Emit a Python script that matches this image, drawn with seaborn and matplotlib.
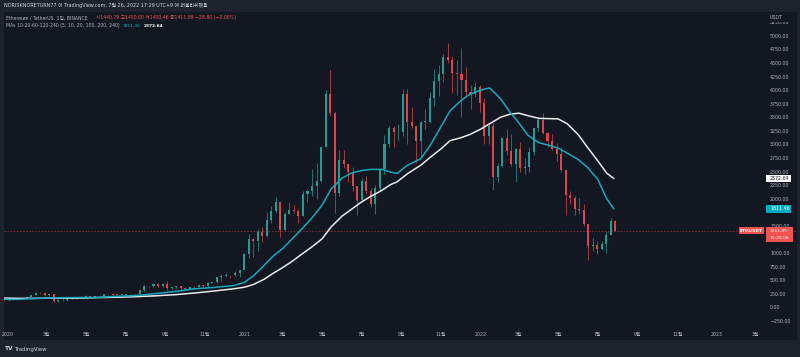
import numpy as np
import pandas as pd
import matplotlib
matplotlib.use("Agg")
import matplotlib.pyplot as plt
import matplotlib.dates as mdates
import matplotlib.transforms as mtransforms
from matplotlib.patches import Rectangle
import seaborn as sns

# ---------------- data (weekly OHLC) ----------------
week_start = [
    "2019-12-16", "2019-12-23", "2019-12-30", "2020-01-06", "2020-01-13", "2020-01-20", "2020-01-27",
    "2020-02-03", "2020-02-10", "2020-02-17", "2020-02-24", "2020-03-02", "2020-03-09", "2020-03-16",
    "2020-03-23", "2020-03-30", "2020-04-06", "2020-04-13", "2020-04-20", "2020-04-27", "2020-05-04",
    "2020-05-11", "2020-05-18", "2020-05-25", "2020-06-01", "2020-06-08", "2020-06-15", "2020-06-22",
    "2020-06-29", "2020-07-06", "2020-07-13", "2020-07-20", "2020-07-27", "2020-08-03", "2020-08-10",
    "2020-08-17", "2020-08-24", "2020-08-31", "2020-09-07", "2020-09-14", "2020-09-21", "2020-09-28",
    "2020-10-05", "2020-10-12", "2020-10-19", "2020-10-26", "2020-11-02", "2020-11-09", "2020-11-16",
    "2020-11-23", "2020-11-30", "2020-12-07", "2020-12-14", "2020-12-21", "2020-12-28", "2021-01-04",
    "2021-01-11", "2021-01-18", "2021-01-25", "2021-02-01", "2021-02-08", "2021-02-15", "2021-02-22",
    "2021-03-01", "2021-03-08", "2021-03-15", "2021-03-22", "2021-03-29", "2021-04-05", "2021-04-12",
    "2021-04-19", "2021-04-26", "2021-05-03", "2021-05-10", "2021-05-17", "2021-05-24", "2021-05-31",
    "2021-06-07", "2021-06-14", "2021-06-21", "2021-06-28", "2021-07-05", "2021-07-12", "2021-07-19",
    "2021-07-26", "2021-08-02", "2021-08-09", "2021-08-16", "2021-08-23", "2021-08-30", "2021-09-06",
    "2021-09-13", "2021-09-20", "2021-09-27", "2021-10-04", "2021-10-11", "2021-10-18", "2021-10-25",
    "2021-11-01", "2021-11-08", "2021-11-15", "2021-11-22", "2021-11-29", "2021-12-06", "2021-12-13",
    "2021-12-20", "2021-12-27", "2022-01-03", "2022-01-10", "2022-01-17", "2022-01-24", "2022-01-31",
    "2022-02-07", "2022-02-14", "2022-02-21", "2022-02-28", "2022-03-07", "2022-03-14", "2022-03-21",
    "2022-03-28", "2022-04-04", "2022-04-11", "2022-04-18", "2022-04-25", "2022-05-02", "2022-05-09",
    "2022-05-16", "2022-05-23", "2022-05-30", "2022-06-06", "2022-06-13", "2022-06-20", "2022-06-27",
    "2022-07-04", "2022-07-11", "2022-07-18", "2022-07-25",
]
open_ = [
    142, 132, 129, 136, 143, 167, 168, 183, 223, 265, 262, 218, 236, 124, 132, 133, 170, 158, 185, 196,
    210, 188, 207, 206, 244, 243, 233, 228, 228, 241, 239, 238, 310, 384, 390, 433, 390, 430, 352, 365,
    385, 355, 343, 370, 368, 407, 385, 455, 460, 550, 575, 595, 590, 640, 685, 975, 1260, 1230, 1390,
    1310, 1610, 1780, 1935, 1415, 1725, 1790, 1780, 1690, 2080, 2140, 2240, 2320, 2950, 3930, 3580,
    2100, 2710, 2630, 2500, 2240, 1985, 2320, 2140, 1895, 2190, 2555, 3010, 3310, 3225, 3225, 3935,
    3410, 3330, 3060, 3420, 3420, 3850, 4170, 4290, 4610, 4560, 4320, 4300, 4190, 3960, 3920, 4060,
    3760, 3150, 3330, 2400, 2600, 3120, 2880, 2630, 2920, 2560, 2580, 2860, 3300, 3450, 3210, 3060,
    2920, 2830, 2520, 2060, 2010, 1810, 1800, 1530, 1130, 1140, 1070, 1160, 1340, 1596,
]
high = [
    145, 136, 145, 147, 180, 172, 186, 225, 287, 285, 275, 253, 245, 145, 150, 175, 185, 187, 200, 227,
    217, 215, 216, 245, 252, 250, 240, 250, 243, 250, 245, 320, 415, 400, 440, 445, 440, 488, 380, 395,
    385, 370, 375, 390, 420, 420, 465, 475, 560, 620, 635, 600, 675, 690, 1000, 1350, 1275, 1440, 1480,
    1755, 1870, 2040, 1940, 1760, 1940, 1890, 1815, 2145, 2180, 2550, 2650, 2950, 4000, 4370, 3590,
    2900, 2890, 2630, 2590, 2240, 2390, 2410, 2200, 2250, 2555, 3180, 3330, 3335, 3375, 4025, 4020,
    3680, 3330, 3430, 3660, 3970, 4380, 4460, 4670, 4870, 4620, 4550, 4780, 4420, 4100, 4140, 4100,
    3860, 3410, 3400, 2650, 3130, 3280, 3200, 2930, 3050, 2750, 2950, 3310, 3480, 3580, 3220, 3190,
    3020, 2960, 2520, 2150, 2050, 2020, 1900, 1530, 1270, 1230, 1220, 1380, 1650, 1610,
]
low = [
    117, 124, 125, 133, 141, 155, 163, 181, 220, 243, 210, 215, 90, 105, 122, 125, 150, 150, 168, 190,
    180, 170, 198, 196, 222, 215, 222, 218, 220, 235, 230, 235, 300, 365, 370, 380, 375, 310, 330, 360,
    310, 330, 335, 360, 365, 370, 375, 440, 445, 480, 550, 540, 585, 560, 685, 900, 920, 1040, 1210,
    1300, 1550, 1730, 1300, 1410, 1725, 1730, 1550, 1680, 1940, 2050, 2000, 2310, 2950, 3530, 1730,
    2050, 2560, 2310, 2150, 1700, 1950, 2080, 1850, 1720, 2150, 2450, 2950, 2950, 3060, 3150, 3000,
    3300, 2650, 2740, 3280, 3400, 3700, 3890, 4150, 4500, 3940, 3910, 3500, 3900, 3650, 3880, 3600,
    3000, 3000, 2160, 2300, 2580, 2800, 2600, 2300, 2500, 2450, 2500, 2800, 3250, 3190, 2950, 2900,
    2700, 2500, 1700, 1900, 1700, 1720, 1500, 880, 1040, 990, 1060, 1000, 1340, 1400,
]
close = [
    132, 129, 136, 143, 167, 168, 183, 223, 265, 262, 218, 236, 124, 132, 133, 170, 158, 185, 196, 210,
    188, 207, 206, 244, 243, 233, 228, 228, 241, 239, 238, 310, 384, 390, 433, 390, 430, 352, 365, 385,
    355, 343, 370, 368, 407, 385, 455, 460, 550, 575, 595, 590, 640, 685, 975, 1260, 1230, 1390, 1310,
    1610, 1780, 1935, 1415, 1725, 1790, 1780, 1690, 2080, 2140, 2240, 2320, 2950, 3930, 3580, 2100,
    2710, 2630, 2500, 2240, 1985, 2320, 2140, 1895, 2190, 2555, 3010, 3310, 3225, 3225, 3935, 3410,
    3330, 3060, 3420, 3420, 3850, 4170, 4290, 4610, 4560, 4320, 4300, 4190, 3960, 3920, 4060, 3760,
    3150, 3330, 2400, 2600, 3120, 2880, 2630, 2920, 2560, 2580, 2860, 3300, 3450, 3210, 3060, 2920,
    2830, 2520, 2060, 2010, 1810, 1800, 1530, 1130, 1140, 1070, 1160, 1340, 1596, 1411.99,
]

# moving averages (cyan = MA100, white = MA200)
ma_dates = [
    "2019-12-18", "2020-01-15", "2020-02-15", "2020-03-15", "2020-04-15", "2020-05-15", "2020-06-15",
    "2020-07-15", "2020-08-15", "2020-09-15", "2020-10-15", "2020-11-15", "2020-12-15", "2021-01-01",
    "2021-01-15", "2021-02-01", "2021-02-15", "2021-03-01", "2021-03-15", "2021-04-01", "2021-04-15",
    "2021-05-01", "2021-05-15", "2021-06-01", "2021-06-15", "2021-07-01", "2021-07-15", "2021-08-01",
    "2021-08-15", "2021-08-25", "2021-09-10", "2021-10-01", "2021-10-15", "2021-11-01", "2021-11-15",
    "2021-12-01", "2021-12-15", "2022-01-01", "2022-01-15", "2022-02-01", "2022-02-15", "2022-03-01",
    "2022-03-15", "2022-04-01", "2022-04-15", "2022-05-01", "2022-05-15", "2022-06-01", "2022-06-15",
    "2022-07-01", "2022-07-15", "2022-07-26",
]
ma100 = [
    150, 145, 165, 175, 180, 180, 200, 215, 250, 290, 340, 365, 400, 460, 580, 780, 950, 1080, 1250,
    1460, 1640, 1880, 2180, 2380, 2470, 2520, 2540, 2540, 2490, 2465, 2615, 2740, 2980, 3330, 3620,
    3800, 3920, 4000, 4040, 3840, 3600, 3400, 3170, 3030, 2990, 2930, 2840, 2720, 2580, 2360, 2000,
    1811.46,
]
ma200 = [
    172, 165, 165, 170, 168, 178, 185, 195, 210, 232, 262, 300, 340, 370, 420, 520, 630, 730, 840,
    990, 1110, 1260, 1480, 1680, 1800, 1940, 2040, 2150, 2260, 2310, 2460, 2620, 2760, 2920, 3070,
    3120, 3180, 3280, 3380, 3500, 3555, 3575, 3530, 3480, 3475, 3470, 3380, 3180, 2950, 2700, 2470,
    2372.64,
]

x_tick_dates = ["2020-01-01", "2020-03-01", "2020-05-01", "2020-07-01", "2020-09-01", "2020-11-01",
                "2021-01-01", "2021-03-01", "2021-05-01", "2021-07-01", "2021-09-01", "2021-11-01",
                "2022-01-01", "2022-03-01", "2022-05-01", "2022-07-01", "2022-09-01", "2022-11-01",
                "2023-01-01", "2023-03-01"]
x_tick_labels = ["2020", "3월", "5월", "7월", "9월", "11월", "2021", "3월", "5월", "7월", "9월", "11월",
                 "2022", "3월", "5월", "7월", "9월", "11월", "2023", "3월"]
y_ticks = list(range(-250, 5251, 250))
hidden_y_labels = [1250, 1750]   # covered by the price tags in the reference

last_price = 1411.99

# ---------------- style ----------------
sns.set_theme(style="dark")
plt.rcParams["font.family"] = ["DejaVu Sans", "Noto Sans CJK KR"]

BG_OUT = "#1e222d"
BG_PANEL = "#131722"
UP = "#239c91"
DOWN = "#d9474d"
CYAN = "#16a9bd"
WHITE = "#ececec"
TXT = "#b2b5be"

W, H = 800, 357
fig = plt.figure(figsize=(8, 3.57), dpi=100, facecolor=BG_OUT)

def fx(px):
    return px / W

def fy(py):
    return 1 - py / H

# axes covers the chart panel (x 4..797 px, y 12..340 px)
AX_L, AX_R, AX_T, AX_B = 4, 797, 12, 340
ax = fig.add_axes([fx(AX_L), fy(AX_B), (AX_R - AX_L) / W, (AX_B - AX_T) / H])
ax.set_facecolor(BG_PANEL)
for s in ax.spines.values():
    s.set_visible(False)
ax.grid(False)

# pixel calibration of the reference
Y0, PPK = 307.3, 54.3          # y px of price 0, px per 1000 USDT
X2020, PPD = 7.6, 0.647        # x px of 2020-01-01, px per day
base = mdates.date2num(pd.Timestamp("2020-01-01"))
ax.set_xlim(base + (AX_L - X2020) / PPD, base + (AX_R - X2020) / PPD)
ax.set_ylim((Y0 - AX_B) / PPK * 1000, (Y0 - AX_T) / PPK * 1000)

# ---------------- candles ----------------
xc = mdates.date2num(pd.to_datetime(week_start)) + 3.5
o = np.array(open_, float)
c = np.array(close, float)
hi = np.array(high, float)
lo = np.array(low, float)
cols = np.where(c >= o, UP, DOWN)
ax.vlines(xc, lo, hi, colors=cols, linewidth=0.5, zorder=2)
ax.bar(xc, np.maximum(np.abs(c - o), 8), bottom=np.minimum(o, c), width=3.2,
       color=cols, linewidth=0, zorder=3)

# ---------------- moving averages ----------------
mx = mdates.date2num(pd.to_datetime(ma_dates))
ma_df = pd.DataFrame({"x": mx, "ma100": ma100, "ma200": ma200})
sns.lineplot(data=ma_df, x="x", y="ma200", ax=ax, color=WHITE, linewidth=1.1, zorder=5)
sns.lineplot(data=ma_df, x="x", y="ma100", ax=ax, color=CYAN, linewidth=1.1, zorder=5)
ax.set_xlabel("")
ax.set_ylabel("")

# last-price dotted line
ax.axhline(last_price, color="#7d2f37", linestyle=(0, (1.6, 1.6)), linewidth=0.7, zorder=1)

# ---------------- ticks ----------------
ax.set_xticks(mdates.date2num(pd.to_datetime(x_tick_dates)))
ax.set_xticklabels(x_tick_labels)
ax.tick_params(axis="x", length=0, pad=-5.6, labelsize=3.4, labelcolor=TXT)
ax.yaxis.tick_right()
ax.set_yticks(y_ticks)
ax.set_yticklabels(["" if v in hidden_y_labels else ("−" if v < 0 else "") + f"{abs(v):.2f}"
                    for v in y_ticks])
ax.tick_params(axis="y", length=0, pad=-19.4, labelsize=3.4, labelcolor=TXT)

# ---------------- price tags ----------------
blend = mtransforms.blended_transform_factory(ax.transAxes, ax.transData)

def axx(px):
    return (px - AX_L) / (AX_R - AX_L)

def dy(px):
    return px / PPK * 1000

def tag(price, x0, x1, y_above, y_below, fc, lines, tc, xt=770, bold=False, ha="left", size=3.4):
    ax.add_patch(Rectangle((axx(x0), price - dy(y_below)), axx(x1) - axx(x0), dy(y_above + y_below),
                           transform=blend, facecolor=fc, edgecolor="none", zorder=10, clip_on=False))
    for i, t in enumerate(lines):
        ax.text(axx(xt), price - dy(7.4 * i), t, transform=blend, ha=ha, va="center",
                fontsize=size, color=tc, zorder=11, fontweight="bold" if bold else "normal")

tag(ma200[-1], 766, 791, 3.6, 3.6, "#ffffff", [f"{ma200[-1]:.2f}"], "#131722")
tag(ma100[-1], 766, 791, 3.6, 3.6, "#00acc1", [f"{ma100[-1]:.2f}"], "#ffffff")
tag(last_price, 766, 793, 3.4, 11.4, "#ef5350", [f"{last_price:.2f}", "15:30:06"], "#ffffff", size=3.2)
tag(last_price, 738.5, 764, 3.6, 3.6, "#ef5350", ["ETHUSDT"], "#ffffff", xt=751.3, bold=True,
    ha="center", size=3.2)

# USDT currency label (covers the clipped 5250 label)
fig.patches.append(Rectangle((fx(764), fy(22)), 32 / W, 9 / H, transform=fig.transFigure,
                             facecolor=BG_PANEL, edgecolor="none", zorder=5))
fig.text(fx(770), fy(17.3), "USDT", fontsize=3.4, color=TXT, ha="left", va="center", zorder=6)

# ---------------- header / legend ----------------
fig.text(fx(3.5), fy(6), "NORISKNORETURN77 이 TradingView.com, 7월 26, 2022 17:29 UTC+9 에 퍼블리쉬했음",
         fontsize=3.5, color="#d1d4dc", ha="left", va="center")
LS = 3.35
fig.text(fx(6), fy(17.7), "Ethereum / TetherUS, 1일, BINANCE", fontsize=LS, color=TXT,
         ha="left", va="center", zorder=6)
fig.text(fx(96), fy(17.7), "시1440.79 고1450.00 저1400.46 종1411.99 −28.80 (−2.00%)", fontsize=LS,
         color="#ef5350", ha="left", va="center", zorder=6)
fig.text(fx(6), fy(26), "MAs 10-20-60-120-240 (5, 10, 20, 100, 200, 240)", fontsize=LS, color=TXT,
         ha="left", va="center", zorder=6)
fig.text(fx(123), fy(26), f"{ma100[-1]:.2f}", fontsize=3.2, color="#00acc1", ha="left", va="center", zorder=6)
fig.text(fx(144), fy(26), f"{ma200[-1]:.2f}", fontsize=3.2, color="#ffffff", ha="left", va="center",
         zorder=6, fontweight="bold")

# footer logo
fig.text(fx(5), fy(349), "TV", fontsize=4.2, color="#d1d4dc", ha="left", va="center", fontweight="bold")
fig.text(fx(14), fy(349), "TradingView", fontsize=3.9, color="#d1d4dc", ha="left", va="center")

fig.savefig("out.png", dpi=100, facecolor=BG_OUT)
